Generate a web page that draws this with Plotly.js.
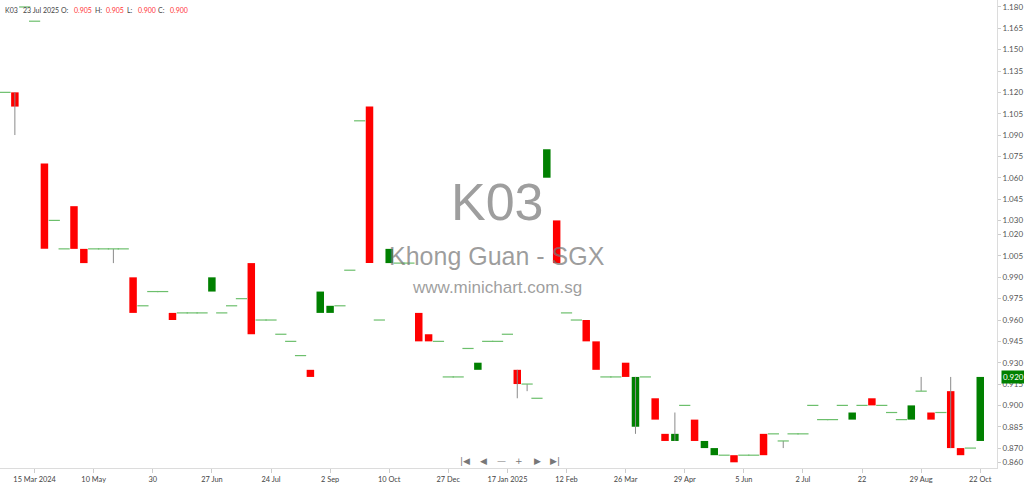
<!DOCTYPE html>
<html><head><meta charset="utf-8">
<script src="https://cdn.plot.ly/plotly-3.0.1.min.js"></script>
<style>html,body{margin:0;padding:0;background:#fff}#chart{width:1024px;height:484px}</style>
</head><body><div id="chart"></div>
<script>
// One bar per trading session (category axis, index 0..99)
const opens = [
 1.12,1.12,1.18,1.17,1.07,1.03,1.01,1.04,1.01,1.01,
 1.01,1.01,1.01,0.99,0.97,0.98,0.98,0.965,0.965,0.965,
 0.965,0.98,0.965,0.97,0.975,1.00,0.96,0.96,0.95,0.945,
 0.935,0.925,0.965,0.965,0.97,0.995,1.10,1.11,0.96,1.00,
 1.00,1.00,0.965,0.95,0.945,0.92,0.92,0.94,0.925,0.945,
 0.945,0.95,0.925,0.915,0.905,1.06,1.03,0.965,0.96,0.96,
 0.945,0.92,0.92,0.93,0.885,0.92,0.905,0.88,0.875,0.90,
 0.89,0.87,0.865,0.865,0.865,0.865,0.865,0.88,0.88,0.875,
 0.88,0.88,0.90,0.89,0.89,0.90,0.89,0.90,0.905,0.90,
 0.895,0.89,0.89,0.91,0.895,0.895,0.91,0.87,0.87,0.875];
const highs = [
 1.12,1.12,1.18,1.17,1.07,1.03,1.01,1.04,1.01,1.01,
 1.01,1.01,1.01,0.99,0.97,0.98,0.98,0.965,0.965,0.965,
 0.965,0.99,0.965,0.97,0.975,1.00,0.96,0.96,0.95,0.945,
 0.935,0.925,0.98,0.97,0.97,0.995,1.10,1.11,0.96,1.01,
 1.00,1.00,0.965,0.95,0.945,0.92,0.92,0.94,0.93,0.945,
 0.945,0.95,0.925,0.915,0.905,1.08,1.03,0.965,0.96,0.96,
 0.945,0.92,0.92,0.93,0.92,0.92,0.905,0.88,0.895,0.90,
 0.89,0.875,0.87,0.865,0.865,0.865,0.865,0.88,0.88,0.875,
 0.88,0.88,0.90,0.89,0.89,0.90,0.895,0.90,0.905,0.90,
 0.895,0.89,0.90,0.92,0.895,0.895,0.92,0.87,0.87,0.92];
const lows = [
 1.12,1.09,1.18,1.17,1.01,1.03,1.01,1.01,1.00,1.01,
 1.01,1.00,1.01,0.965,0.97,0.98,0.98,0.96,0.965,0.965,
 0.965,0.98,0.965,0.97,0.975,0.95,0.96,0.96,0.95,0.945,
 0.935,0.92,0.965,0.965,0.97,0.995,1.10,1.00,0.96,1.00,
 1.00,1.00,0.945,0.945,0.945,0.92,0.92,0.94,0.925,0.945,
 0.945,0.95,0.905,0.91,0.905,1.06,1.00,0.965,0.96,0.945,
 0.925,0.92,0.92,0.92,0.88,0.92,0.89,0.875,0.875,0.90,
 0.875,0.87,0.865,0.865,0.86,0.865,0.865,0.865,0.88,0.87,
 0.88,0.88,0.90,0.89,0.89,0.90,0.89,0.90,0.90,0.90,
 0.895,0.89,0.89,0.91,0.89,0.895,0.87,0.865,0.87,0.875];
const closes = [
 1.12,1.11,1.18,1.17,1.01,1.03,1.01,1.01,1.00,1.01,
 1.01,1.01,1.01,0.965,0.97,0.98,0.98,0.96,0.965,0.965,
 0.965,0.99,0.965,0.97,0.975,0.95,0.96,0.96,0.95,0.945,
 0.935,0.92,0.98,0.97,0.97,0.995,1.10,1.00,0.96,1.01,
 1.00,1.00,0.945,0.945,0.945,0.92,0.92,0.94,0.93,0.945,
 0.945,0.95,0.915,0.915,0.905,1.08,1.00,0.965,0.96,0.945,
 0.925,0.92,0.92,0.92,0.92,0.92,0.89,0.875,0.88,0.90,
 0.875,0.875,0.87,0.865,0.86,0.865,0.865,0.865,0.88,0.875,
 0.88,0.88,0.90,0.89,0.89,0.90,0.895,0.90,0.90,0.90,
 0.895,0.89,0.90,0.91,0.89,0.895,0.87,0.865,0.87,0.92];
const xTickIndex = [3,9,15,21,27,33,39,45,51,57,63,69,75,81,87,93,99];
const xTickLabels = ['15 Mar 2024','10 May','30','27 Jun','24 Jul','2 Sep','10 Oct','27 Dec',
  '17 Jan 2025','12 Feb','26 Mar','29 Apr','5 Jun','2 Jul','22','29 Aug','22 Oct'];
const yTicks = [1.180,1.165,1.150,1.135,1.120,1.105,1.090,1.075,1.060,1.045,1.030,1.020,
  1.005,0.990,0.975,0.960,0.945,0.930,0.915,0.900,0.885,0.870,0.860];
const lastPrice = 0.920;
// header (hovered session)
const headerSymbol = 'K03';
const headerDate = '23 Jul 2025';
const headerKeys = ['O:','H:','L:','C:'];
const headerVals = ['0.905','0.905','0.900','0.900'];

const idx = opens.map((_, i) => i);
const eq = (a, b) => Math.abs(a - b) < 1e-9;

// wicks
const wx = [], wy = [];
idx.forEach(i => {
  if (highs[i] > Math.max(opens[i], closes[i]) + 1e-9 || lows[i] < Math.min(opens[i], closes[i]) - 1e-9) {
    wx.push(i, i, null); wy.push(lows[i], highs[i], null);
  }
});
// bodies and dojis
const bx = [], bb = [], bh = [], bc = [];
const dx = [], dy = [];
idx.forEach(i => {
  if (eq(opens[i], closes[i])) { dx.push(i); dy.push(closes[i]); }
  else {
    bx.push(i); bb.push(Math.min(opens[i], closes[i]));
    bh.push(Math.abs(closes[i] - opens[i]));
    bc.push(closes[i] > opens[i] ? '#008000' : '#ff0000');
  }
});

const traces = [
  {type:'scatter', mode:'lines', x:wx, y:wy, line:{color:'#8a8a8a', width:1},
   hoverinfo:'skip', showlegend:false, connectgaps:false},
  {type:'bar', x:bx, y:bh, base:bb, width:0.76, marker:{color:bc, line:{width:0}},
   hoverinfo:'skip', showlegend:false},
  {type:'scatter', mode:'markers', x:dx, y:dy,
   marker:{symbol:'line-ew', size:8, line:{color:'#6cbf6c', width:1.2}},
   hoverinfo:'skip', showlegend:false}
];

const grey = 'rgba(120,120,120,0.72)';
const hdrFont = {family:'Lato, Liberation Sans, sans-serif', size:7, color:'#444'};
const hdrRed = {family:'Lato, Liberation Sans, sans-serif', size:7, color:'#ff3333'};
const W = 997;
const hdrY = 1 - 10/468;
const hdrItems = [
  [headerSymbol, 4, hdrFont], [headerDate, 22, hdrFont],
  [headerKeys[0], 60, hdrFont], [headerVals[0], 73, hdrRed],
  [headerKeys[1], 94, hdrFont], [headerVals[1], 105, hdrRed],
  [headerKeys[2], 126, hdrFont], [headerVals[2], 137, hdrRed],
  [headerKeys[3], 157, hdrFont], [headerVals[3], 169, hdrRed]
];
const navItems = [['|◀',465],['◀',483],['—',501],['+',519],['▶',537],['▶|',555]];

const annotations = [
  {xref:'paper', yref:'paper', x:0.4985, y:0.568, text:'K03', showarrow:false,
   font:{family:'Liberation Sans, Arial, sans-serif', size:52, color:grey}},
  {xref:'paper', yref:'paper', x:0.4985, y:0.453, text:'Khong Guan - SGX', showarrow:false,
   font:{family:'Liberation Sans, Arial, sans-serif', size:25, color:grey}},
  {xref:'paper', yref:'paper', x:0.4985, y:0.385, text:'www.minichart.com.sg', showarrow:false,
   font:{family:'Liberation Sans, Arial, sans-serif', size:17, color:grey}},
  {xref:'paper', yref:'y', x:1, y:lastPrice, xanchor:'left', yanchor:'middle', xshift:4,
   showarrow:false, text:lastPrice.toFixed(3), bgcolor:'#008000', borderpad:1,
   font:{family:'Lato, Liberation Sans, sans-serif', size:8, color:'#ffffff'}}
];
hdrItems.forEach(([t, px, f]) => annotations.push({xref:'paper', yref:'paper', x:px/W, y:hdrY,
  xanchor:'left', yanchor:'middle', showarrow:false, text:t, font:f, borderpad:0}));
navItems.forEach(([t, px]) => annotations.push({xref:'paper', yref:'paper', x:px/W, y:1 - 460/468,
  xanchor:'center', yanchor:'middle', yshift:-1, showarrow:false, text:t,
  font:{family:'DejaVu Sans, sans-serif', size:9, color:'#777'}}));

const layout = {
  width:1024, height:484,
  margin:{l:0, r:27, t:0, b:16},
  paper_bgcolor:'#ffffff', plot_bgcolor:'#ffffff',
  showlegend:false,
  xaxis:{range:[-0.51, 100.7], tickmode:'array', tickvals:xTickIndex, ticktext:xTickLabels,
    showgrid:false, zeroline:false, showline:true, linecolor:'#dcdcdc', linewidth:1,
    ticks:'outside', ticklen:4, tickcolor:'#cccccc',
    tickfont:{family:'Lato, Liberation Sans, sans-serif', size:7.4, color:'#444'}, fixedrange:true},
  yaxis:{range:[0.856, 1.1849], side:'right', tickmode:'array', tickvals:yTicks,
    ticktext:yTicks.map(v => v.toFixed(3)),
    showgrid:false, zeroline:false, showline:true, linecolor:'#dcdcdc', linewidth:1,
    ticks:'outside', ticklen:3, tickcolor:'#cccccc',
    tickfont:{family:'Lato, Liberation Sans, sans-serif', size:8, color:'#555'}, fixedrange:true},
  annotations: annotations
};

Plotly.newPlot('chart', traces, layout, {displayModeBar:false, staticPlot:true});
</script></body></html>
